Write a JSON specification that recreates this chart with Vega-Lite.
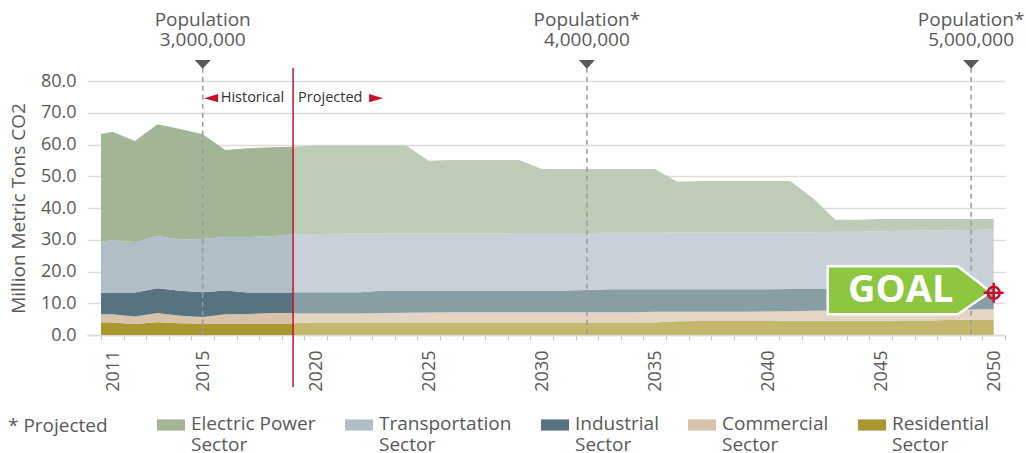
{
  "$schema": "https://vega.github.io/schema/vega-lite/v6.json",
  "width": 918,
  "height": 254,
  "autosize": {"type": "none"},
  "padding": {"left": 87, "top": 81, "right": 21, "bottom": 118},
  "background": "white",
  "config": {
    "font": "Open Sans",
    "view": {"stroke": null},
    "axis": {"labelOverlap": false, "labelBound": false, "labelFlush": false},
    "axisX": {"grid": false, "tickCount": 60, "labelExpr": "indexof([2010.5,2014.5,2019.5,2024.5,2029.5,2034.5,2039.5,2044.5,2049.5], datum.value) >= 0 ? '' + (datum.value + 0.5) : ''",
      "labelAngle": 270, "labelOffset": 12, "labelFontSize": 18, "labelColor": "#595959", "labelPadding": 10,
      "labelOverlap": false, "tickColor": "#c8c8c8", "tickSize": 5, "tickWidth": 1, "domain": true, "domainColor": "#d9d9d9", "domainWidth": 1.5},
    "axisY": {"format": ".1f", "tickCount": 20, "ticks": false, "domain": false, "labelFontSize": 18, "labelColor": "#595959", "labelPadding": 11,
      "labelOverlap": false, "titleFontSize": 19, "titleFontWeight": "normal", "titleColor": "#595959", "titlePadding": 12,
      "grid": true, "gridColor": "#dcdcdc", "gridWidth": 1.5}
  },
  "datasets": {
    "hist": [
      {"year":2010.5,"sector":"Residential","rank":1,"value":4.0},{"year":2010.5,"sector":"Commercial","rank":2,"value":2.5},{"year":2010.5,"sector":"Industrial","rank":3,"value":6.8},{"year":2010.5,"sector":"Transportation","rank":4,"value":16.1},{"year":2010.5,"sector":"Electric Power","rank":5,"value":33.9},
      {"year":2011,"sector":"Residential","rank":1,"value":3.9},{"year":2011,"sector":"Commercial","rank":2,"value":2.6},{"year":2011,"sector":"Industrial","rank":3,"value":6.9},{"year":2011,"sector":"Transportation","rank":4,"value":16.5},{"year":2011,"sector":"Electric Power","rank":5,"value":34.1},
      {"year":2012,"sector":"Residential","rank":1,"value":3.5},{"year":2012,"sector":"Commercial","rank":2,"value":2.3},{"year":2012,"sector":"Industrial","rank":3,"value":7.6},{"year":2012,"sector":"Transportation","rank":4,"value":15.9},{"year":2012,"sector":"Electric Power","rank":5,"value":31.8},
      {"year":2013,"sector":"Residential","rank":1,"value":4.0},{"year":2013,"sector":"Commercial","rank":2,"value":2.9},{"year":2013,"sector":"Industrial","rank":3,"value":7.8},{"year":2013,"sector":"Transportation","rank":4,"value":16.5},{"year":2013,"sector":"Electric Power","rank":5,"value":35.2},
      {"year":2014,"sector":"Residential","rank":1,"value":3.7},{"year":2014,"sector":"Commercial","rank":2,"value":2.4},{"year":2014,"sector":"Industrial","rank":3,"value":7.8},{"year":2014,"sector":"Transportation","rank":4,"value":16.2},{"year":2014,"sector":"Electric Power","rank":5,"value":34.8},
      {"year":2015,"sector":"Residential","rank":1,"value":3.6},{"year":2015,"sector":"Commercial","rank":2,"value":2.1},{"year":2015,"sector":"Industrial","rank":3,"value":7.8},{"year":2015,"sector":"Transportation","rank":4,"value":16.7},{"year":2015,"sector":"Electric Power","rank":5,"value":33.0},
      {"year":2016,"sector":"Residential","rank":1,"value":3.6},{"year":2016,"sector":"Commercial","rank":2,"value":2.9},{"year":2016,"sector":"Industrial","rank":3,"value":7.5},{"year":2016,"sector":"Transportation","rank":4,"value":16.9},{"year":2016,"sector":"Electric Power","rank":5,"value":27.4},
      {"year":2017,"sector":"Residential","rank":1,"value":3.6},{"year":2017,"sector":"Commercial","rank":2,"value":3.0},{"year":2017,"sector":"Industrial","rank":3,"value":6.8},{"year":2017,"sector":"Transportation","rank":4,"value":17.5},{"year":2017,"sector":"Electric Power","rank":5,"value":27.9},
      {"year":2018,"sector":"Residential","rank":1,"value":3.6},{"year":2018,"sector":"Commercial","rank":2,"value":3.3},{"year":2018,"sector":"Industrial","rank":3,"value":6.5},{"year":2018,"sector":"Transportation","rank":4,"value":17.7},{"year":2018,"sector":"Electric Power","rank":5,"value":28.0},
      {"year":2019,"sector":"Residential","rank":1,"value":3.6},{"year":2019,"sector":"Commercial","rank":2,"value":3.3},{"year":2019,"sector":"Industrial","rank":3,"value":6.5},{"year":2019,"sector":"Transportation","rank":4,"value":18.3},{"year":2019,"sector":"Electric Power","rank":5,"value":27.6}
    ],
    "proj": [
      {"year":2019,"sector":"Residential","rank":1,"value":3.7},{"year":2019,"sector":"Commercial","rank":2,"value":3.1},{"year":2019,"sector":"Industrial","rank":3,"value":6.7},{"year":2019,"sector":"Transportation","rank":4,"value":18.2},{"year":2019,"sector":"Electric Power","rank":5,"value":27.6},
      {"year":2020,"sector":"Residential","rank":1,"value":3.9},{"year":2020,"sector":"Commercial","rank":2,"value":2.9},{"year":2020,"sector":"Industrial","rank":3,"value":6.7},{"year":2020,"sector":"Transportation","rank":4,"value":18.3},{"year":2020,"sector":"Electric Power","rank":5,"value":27.9},
      {"year":2021,"sector":"Residential","rank":1,"value":3.9},{"year":2021,"sector":"Commercial","rank":2,"value":2.9},{"year":2021,"sector":"Industrial","rank":3,"value":6.7},{"year":2021,"sector":"Transportation","rank":4,"value":18.4},{"year":2021,"sector":"Electric Power","rank":5,"value":27.8},
      {"year":2022,"sector":"Residential","rank":1,"value":3.9},{"year":2022,"sector":"Commercial","rank":2,"value":2.9},{"year":2022,"sector":"Industrial","rank":3,"value":6.7},{"year":2022,"sector":"Transportation","rank":4,"value":18.4},{"year":2022,"sector":"Electric Power","rank":5,"value":27.8},
      {"year":2023,"sector":"Residential","rank":1,"value":3.9},{"year":2023,"sector":"Commercial","rank":2,"value":3.0},{"year":2023,"sector":"Industrial","rank":3,"value":7.1},{"year":2023,"sector":"Transportation","rank":4,"value":18.0},{"year":2023,"sector":"Electric Power","rank":5,"value":27.7},
      {"year":2024,"sector":"Residential","rank":1,"value":3.9},{"year":2024,"sector":"Commercial","rank":2,"value":3.1},{"year":2024,"sector":"Industrial","rank":3,"value":7.0},{"year":2024,"sector":"Transportation","rank":4,"value":18.0},{"year":2024,"sector":"Electric Power","rank":5,"value":27.7},
      {"year":2025,"sector":"Residential","rank":1,"value":3.9},{"year":2025,"sector":"Commercial","rank":2,"value":3.2},{"year":2025,"sector":"Industrial","rank":3,"value":6.9},{"year":2025,"sector":"Transportation","rank":4,"value":18.0},{"year":2025,"sector":"Electric Power","rank":5,"value":22.9},
      {"year":2026,"sector":"Residential","rank":1,"value":3.9},{"year":2026,"sector":"Commercial","rank":2,"value":3.3},{"year":2026,"sector":"Industrial","rank":3,"value":6.8},{"year":2026,"sector":"Transportation","rank":4,"value":18.0},{"year":2026,"sector":"Electric Power","rank":5,"value":23.1},
      {"year":2027,"sector":"Residential","rank":1,"value":3.9},{"year":2027,"sector":"Commercial","rank":2,"value":3.3},{"year":2027,"sector":"Industrial","rank":3,"value":6.8},{"year":2027,"sector":"Transportation","rank":4,"value":18.0},{"year":2027,"sector":"Electric Power","rank":5,"value":23.1},
      {"year":2028,"sector":"Residential","rank":1,"value":3.9},{"year":2028,"sector":"Commercial","rank":2,"value":3.3},{"year":2028,"sector":"Industrial","rank":3,"value":6.8},{"year":2028,"sector":"Transportation","rank":4,"value":18.0},{"year":2028,"sector":"Electric Power","rank":5,"value":23.1},
      {"year":2029,"sector":"Residential","rank":1,"value":3.9},{"year":2029,"sector":"Commercial","rank":2,"value":3.3},{"year":2029,"sector":"Industrial","rank":3,"value":6.8},{"year":2029,"sector":"Transportation","rank":4,"value":18.1},{"year":2029,"sector":"Electric Power","rank":5,"value":23.0},
      {"year":2030,"sector":"Residential","rank":1,"value":3.9},{"year":2030,"sector":"Commercial","rank":2,"value":3.3},{"year":2030,"sector":"Industrial","rank":3,"value":6.8},{"year":2030,"sector":"Transportation","rank":4,"value":18.1},{"year":2030,"sector":"Electric Power","rank":5,"value":20.2},
      {"year":2031,"sector":"Residential","rank":1,"value":3.9},{"year":2031,"sector":"Commercial","rank":2,"value":3.3},{"year":2031,"sector":"Industrial","rank":3,"value":6.8},{"year":2031,"sector":"Transportation","rank":4,"value":18.1},{"year":2031,"sector":"Electric Power","rank":5,"value":20.2},
      {"year":2032,"sector":"Residential","rank":1,"value":3.9},{"year":2032,"sector":"Commercial","rank":2,"value":3.3},{"year":2032,"sector":"Industrial","rank":3,"value":7.0},{"year":2032,"sector":"Transportation","rank":4,"value":17.9},{"year":2032,"sector":"Electric Power","rank":5,"value":20.2},
      {"year":2033,"sector":"Residential","rank":1,"value":3.9},{"year":2033,"sector":"Commercial","rank":2,"value":3.3},{"year":2033,"sector":"Industrial","rank":3,"value":7.2},{"year":2033,"sector":"Transportation","rank":4,"value":17.8},{"year":2033,"sector":"Electric Power","rank":5,"value":20.1},
      {"year":2034,"sector":"Residential","rank":1,"value":3.9},{"year":2034,"sector":"Commercial","rank":2,"value":3.3},{"year":2034,"sector":"Industrial","rank":3,"value":7.2},{"year":2034,"sector":"Transportation","rank":4,"value":17.8},{"year":2034,"sector":"Electric Power","rank":5,"value":20.1},
      {"year":2035,"sector":"Residential","rank":1,"value":3.9},{"year":2035,"sector":"Commercial","rank":2,"value":3.4},{"year":2035,"sector":"Industrial","rank":3,"value":7.1},{"year":2035,"sector":"Transportation","rank":4,"value":17.8},{"year":2035,"sector":"Electric Power","rank":5,"value":20.1},
      {"year":2036,"sector":"Residential","rank":1,"value":4.3},{"year":2036,"sector":"Commercial","rank":2,"value":3.0},{"year":2036,"sector":"Industrial","rank":3,"value":7.1},{"year":2036,"sector":"Transportation","rank":4,"value":17.9},{"year":2036,"sector":"Electric Power","rank":5,"value":16.0},
      {"year":2037,"sector":"Residential","rank":1,"value":4.4},{"year":2037,"sector":"Commercial","rank":2,"value":2.9},{"year":2037,"sector":"Industrial","rank":3,"value":7.1},{"year":2037,"sector":"Transportation","rank":4,"value":17.9},{"year":2037,"sector":"Electric Power","rank":5,"value":16.2},
      {"year":2038,"sector":"Residential","rank":1,"value":4.4},{"year":2038,"sector":"Commercial","rank":2,"value":2.9},{"year":2038,"sector":"Industrial","rank":3,"value":7.1},{"year":2038,"sector":"Transportation","rank":4,"value":17.9},{"year":2038,"sector":"Electric Power","rank":5,"value":16.2},
      {"year":2039,"sector":"Residential","rank":1,"value":4.4},{"year":2039,"sector":"Commercial","rank":2,"value":2.9},{"year":2039,"sector":"Industrial","rank":3,"value":7.1},{"year":2039,"sector":"Transportation","rank":4,"value":17.9},{"year":2039,"sector":"Electric Power","rank":5,"value":16.2},
      {"year":2040,"sector":"Residential","rank":1,"value":4.4},{"year":2040,"sector":"Commercial","rank":2,"value":3.0},{"year":2040,"sector":"Industrial","rank":3,"value":7.0},{"year":2040,"sector":"Transportation","rank":4,"value":17.9},{"year":2040,"sector":"Electric Power","rank":5,"value":16.2},
      {"year":2041,"sector":"Residential","rank":1,"value":4.5},{"year":2041,"sector":"Commercial","rank":2,"value":3.0},{"year":2041,"sector":"Industrial","rank":3,"value":7.0},{"year":2041,"sector":"Transportation","rank":4,"value":17.9},{"year":2041,"sector":"Electric Power","rank":5,"value":16.1},
      {"year":2042,"sector":"Residential","rank":1,"value":4.5},{"year":2042,"sector":"Commercial","rank":2,"value":3.1},{"year":2042,"sector":"Industrial","rank":3,"value":6.9},{"year":2042,"sector":"Transportation","rank":4,"value":17.9},{"year":2042,"sector":"Electric Power","rank":5,"value":10.7},
      {"year":2043,"sector":"Residential","rank":1,"value":4.5},{"year":2043,"sector":"Commercial","rank":2,"value":3.2},{"year":2043,"sector":"Industrial","rank":3,"value":6.8},{"year":2043,"sector":"Transportation","rank":4,"value":18.0},{"year":2043,"sector":"Electric Power","rank":5,"value":3.8},
      {"year":2044,"sector":"Residential","rank":1,"value":4.5},{"year":2044,"sector":"Commercial","rank":2,"value":3.2},{"year":2044,"sector":"Industrial","rank":3,"value":6.8},{"year":2044,"sector":"Transportation","rank":4,"value":18.0},{"year":2044,"sector":"Electric Power","rank":5,"value":3.8},
      {"year":2045,"sector":"Residential","rank":1,"value":4.5},{"year":2045,"sector":"Commercial","rank":2,"value":3.3},{"year":2045,"sector":"Industrial","rank":3,"value":6.7},{"year":2045,"sector":"Transportation","rank":4,"value":18.1},{"year":2045,"sector":"Electric Power","rank":5,"value":3.9},
      {"year":2046,"sector":"Residential","rank":1,"value":4.6},{"year":2046,"sector":"Commercial","rank":2,"value":3.2},{"year":2046,"sector":"Industrial","rank":3,"value":6.8},{"year":2046,"sector":"Transportation","rank":4,"value":18.2},{"year":2046,"sector":"Electric Power","rank":5,"value":3.7},
      {"year":2047,"sector":"Residential","rank":1,"value":4.6},{"year":2047,"sector":"Commercial","rank":2,"value":3.3},{"year":2047,"sector":"Industrial","rank":3,"value":6.7},{"year":2047,"sector":"Transportation","rank":4,"value":18.3},{"year":2047,"sector":"Electric Power","rank":5,"value":3.6},
      {"year":2048,"sector":"Residential","rank":1,"value":4.7},{"year":2048,"sector":"Commercial","rank":2,"value":3.2},{"year":2048,"sector":"Industrial","rank":3,"value":6.8},{"year":2048,"sector":"Transportation","rank":4,"value":18.3},{"year":2048,"sector":"Electric Power","rank":5,"value":3.5},
      {"year":2049,"sector":"Residential","rank":1,"value":4.8},{"year":2049,"sector":"Commercial","rank":2,"value":3.2},{"year":2049,"sector":"Industrial","rank":3,"value":6.7},{"year":2049,"sector":"Transportation","rank":4,"value":18.4},{"year":2049,"sector":"Electric Power","rank":5,"value":3.4},
      {"year":2050,"sector":"Residential","rank":1,"value":4.9},{"year":2050,"sector":"Commercial","rank":2,"value":3.2},{"year":2050,"sector":"Industrial","rank":3,"value":6.7},{"year":2050,"sector":"Transportation","rank":4,"value":18.4},{"year":2050,"sector":"Electric Power","rank":5,"value":3.3}
    ],
    "pop": [
      {"year": 2015, "label": "Population\n3,000,000"},
      {"year": 2032, "label": "Population*\n4,000,000"},
      {"year": 2049, "label": "Population*\n5,000,000"}
    ],
    "divider": [{"year": 2019}],
    "goal": [{"year": 2050, "value": 13.3, "label": "GOAL"}]
  },
  "layer": [
    {
      "data": {"name": "hist"},
      "mark": {"type": "area", "opacity": 1},
      "encoding": {
        "x": {"field": "year", "type": "quantitative",
          "scale": {"domain": [2009.88, 2050.5], "nice": false, "zero": false},
          "axis": {"title": null, "tickCount": 60, "values": [2010.5,2011.5,2012.5,2013.5,2014.5,2015.5,2016.5,2017.5,2018.5,2019.5,2020.5,2021.5,2022.5,2023.5,2024.5,2025.5,2026.5,2027.5,2028.5,2029.5,2030.5,2031.5,2032.5,2033.5,2034.5,2035.5,2036.5,2037.5,2038.5,2039.5,2040.5,2041.5,2042.5,2043.5,2044.5,2045.5,2046.5,2047.5,2048.5,2049.5,2050.5], "labelOverlap": false}
        },
        "y": {"field": "value", "type": "quantitative", "stack": "zero",
          "scale": {"domain": [0, 80], "nice": false},
          "axis": {"title": "Million Metric Tons CO2", "tickCount": 20, "values": [0,10,20,30,40,50,60,70,80], "labelOverlap": false}
        },
        "color": {"field": "sector", "type": "nominal",
          "scale": {"domain": ["Electric Power","Transportation","Industrial","Commercial","Residential"],
                    "range": ["#a2b597","#b0bec8","#56737f","#d7c2ab","#a9972f"]},
          "legend": {"title": "* Projected", "titleOrient": "left", "titleFontSize": 19, "titleFontWeight": "normal",
            "titleColor": "#595959", "titlePadding": 49, "titleBaseline": "bottom", "orient": "none", "legendX": -79, "legendY": 335,
            "direction": "horizontal", "columns": 5, "columnPadding": 29,
            "symbolType": "M-1,-0.757H1V0.043H-1Z", "symbolSize": 784, "symbolStrokeWidth": 0, "symbolOpacity": 1,
            "labelFontSize": 19, "labelColor": "#595959", "labelOffset": 6, "labelLimit": 0,
            "labelExpr": "[datum.label, 'Sector']", "labelBaseline": "alphabetic"}
        },
        "order": {"field": "rank", "type": "quantitative", "sort": "ascending"}
      }
    },
    {
      "data": {"name": "proj"},
      "mark": {"type": "area", "opacity": 1},
      "encoding": {
        "x": {"field": "year", "type": "quantitative", "scale": {"domain": [2009.88, 2050.5], "nice": false, "zero": false}, "axis": {"title": null}},
        "y": {"field": "value", "type": "quantitative", "stack": "zero", "scale": {"domain": [0, 80], "nice": false}, "axis": {"title": "Million Metric Tons CO2"}},
        "fill": {"field": "sector", "type": "nominal",
          "scale": {"domain": ["Electric Power","Transportation","Industrial","Commercial","Residential"],
                    "range": ["#becbb6","#c8d1d8","#899da5","#e3d4c4","#c3b66d"]},
          "legend": null},
        "order": {"field": "rank", "type": "quantitative", "sort": "ascending"}
      }
    },
    {
      "data": {"name": "pop"},
      "mark": {"type": "rule", "strokeDash": [5, 4], "color": "#9a9a9a", "strokeWidth": 1.5},
      "encoding": {
        "x": {"field": "year", "type": "quantitative", "axis": {"title": null}},
        "y": {"datum": 84.2, "type": "quantitative", "axis": {"title": "Million Metric Tons CO2"}},
        "y2": {"datum": 0}
      }
    },
    {
      "data": {"name": "pop"},
      "mark": {"type": "point", "shape": "M-1,-0.5L1,-0.5L0,0.6Z", "size": 256, "filled": true, "color": "#595959", "opacity": 1},
      "encoding": {
        "x": {"field": "year", "type": "quantitative", "axis": {"title": null}},
        "y": {"datum": 85.35, "type": "quantitative", "axis": {"title": "Million Metric Tons CO2"}}
      }
    },
    {
      "data": {"name": "pop"},
      "mark": {"type": "text", "align": "center", "baseline": "alphabetic", "lineBreak": "\n", "lineHeight": 20, "fontSize": 19, "color": "#595959"},
      "encoding": {
        "x": {"field": "year", "type": "quantitative", "axis": {"title": null}},
        "y": {"datum": 97.2, "type": "quantitative", "axis": {"title": "Million Metric Tons CO2"}},
        "text": {"field": "label"}
      }
    },
    {
      "data": {"name": "divider"},
      "mark": {"type": "rule", "color": "#c8102e", "strokeWidth": 1.5},
      "encoding": {
        "x": {"field": "year", "type": "quantitative", "axis": {"title": null}},
        "y": {"datum": 84.1, "type": "quantitative", "axis": {"title": "Million Metric Tons CO2"}},
        "y2": {"datum": -16.4}
      }
    },
    {
      "data": {"name": "divider"},
      "mark": {"type": "text", "text": "Historical", "align": "right", "baseline": "middle", "dx": -9, "fontSize": 14.5, "color": "#333333"},
      "encoding": {
        "x": {"field": "year", "type": "quantitative", "axis": {"title": null}},
        "y": {"datum": 74.6, "type": "quantitative", "axis": {"title": "Million Metric Tons CO2"}}
      }
    },
    {
      "data": {"name": "divider"},
      "mark": {"type": "text", "text": "Projected", "align": "left", "baseline": "middle", "dx": 5, "fontSize": 14.5, "color": "#333333"},
      "encoding": {
        "x": {"field": "year", "type": "quantitative", "axis": {"title": null}},
        "y": {"datum": 74.6, "type": "quantitative", "axis": {"title": "Million Metric Tons CO2"}}
      }
    },
    {
      "data": {"name": "divider"},
      "mark": {"type": "point", "shape": "M1,-0.6L1,0.6L-1,0Z", "size": 196, "filled": true, "color": "#c8102e", "opacity": 1, "xOffset": -82},
      "encoding": {
        "x": {"field": "year", "type": "quantitative", "axis": {"title": null}},
        "y": {"datum": 74.6, "type": "quantitative", "axis": {"title": "Million Metric Tons CO2"}}
      }
    },
    {
      "data": {"name": "divider"},
      "mark": {"type": "point", "shape": "M-1,-0.6L-1,0.6L1,0Z", "size": 196, "filled": true, "color": "#c8102e", "opacity": 1, "xOffset": 83},
      "encoding": {
        "x": {"field": "year", "type": "quantitative", "axis": {"title": null}},
        "y": {"datum": 74.6, "type": "quantitative", "axis": {"title": "Million Metric Tons CO2"}}
      }
    },
    {
      "data": {"name": "goal"},
      "mark": {"type": "point", "shape": "M-0.03,-0.01L-0.36,-0.265L-1.66,-0.265L-1.66,0.215L-0.36,0.215Z", "size": 40000, "filled": true, "fill": "#8dc63f", "stroke": "#ffffff", "strokeWidth": 2.5, "opacity": 1, "fillOpacity": 1, "strokeJoin": "miter"},
      "encoding": {
        "x": {"field": "year", "type": "quantitative", "axis": {"title": null}},
        "y": {"field": "value", "type": "quantitative", "axis": {"title": "Million Metric Tons CO2"}}
      }
    },
    {
      "data": {"name": "goal"},
      "mark": {"type": "text", "align": "center", "baseline": "middle", "dx": -93, "dy": -2, "fontSize": 38, "fontWeight": "bold", "color": "#ffffff"},
      "encoding": {
        "x": {"field": "year", "type": "quantitative", "axis": {"title": null}},
        "y": {"field": "value", "type": "quantitative", "axis": {"title": "Million Metric Tons CO2"}},
        "text": {"field": "label"}
      }
    },
    {
      "data": {"name": "goal"},
      "mark": {"type": "point", "shape": "M-0.6,0A0.6,0.6,0,1,1,0.6,0A0.6,0.6,0,1,1,-0.6,0ZM-1,0L1,0M0,-1L0,1", "size": 400, "filled": false, "color": "#c8102e", "strokeWidth": 2.5, "opacity": 1},
      "encoding": {
        "x": {"field": "year", "type": "quantitative", "axis": {"title": null}},
        "y": {"field": "value", "type": "quantitative", "axis": {"title": "Million Metric Tons CO2"}}
      }
    }
  ]
}
